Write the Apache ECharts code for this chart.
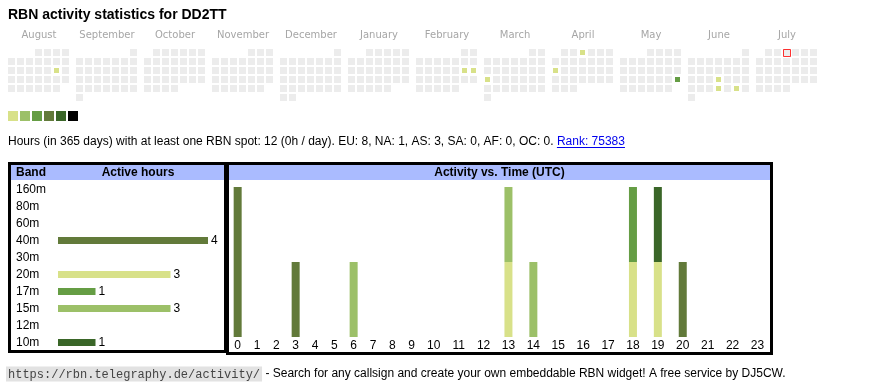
<!DOCTYPE html>
<html><head><meta charset="utf-8">
<script src="https://cdn.jsdelivr.net/npm/echarts@6/dist/echarts.min.js"></script>
<style>html,body{margin:0;padding:0;background:#fff}#c{width:870px;height:390px}</style>
</head><body><div id="c"></div>
<script>
// ---------- data ----------
const callsign = 'DD2TT';
const months = ['2024-08','2024-09','2024-10','2024-11','2024-12','2025-01','2025-02','2025-03','2025-04','2025-05','2025-06','2025-07'];
const monthNames = ['August','September','October','November','December','January','February','March','April','May','June','July'];
const activeDays = ['2024-08-17','2025-02-15','2025-02-16','2025-03-17','2025-04-03','2025-04-14','2025-05-25','2025-06-19','2025-06-26','2025-06-28'];
const activeDayHours = [1,1,1,1,1,1,3,1,1,1];
const today = '2025-07-03';
const levelColors = ['#d8e189','#9cc068','#659d44','#627a3a','#3a6628','#000000'];

const bands = ['160m','80m','60m','40m','30m','20m','17m','15m','12m','10m'];
const bandHours = [0,0,0,4,0,3,1,3,0,1];
const bandColors = ['#d8e189','#9cc068','#659d44','#627a3a','#3a6628','#d8e189','#659d44','#9cc068','#627a3a','#3a6628'];

const hourLabels = ['0','1','2','3','4','5','6','7','8','9','10','11','12','13','14','15','16','17','18','19','20','21','22','23'];
const hours40m = [2,0,0,1,0,0,0,0,0,0,0,0,0,0,0,0,0,0,0,0,1,0,0,0];
const hours20m = [0,0,0,0,0,0,0,0,0,0,0,0,0,1,0,0,0,0,1,1,0,0,0,0];
const hours17m = [0,0,0,0,0,0,0,0,0,0,0,0,0,0,0,0,0,0,1,0,0,0,0,0];
const hours15m = [0,0,0,0,0,0,1,0,0,0,0,0,0,1,1,0,0,0,0,0,0,0,0,0];
const hours10m = [0,0,0,0,0,0,0,0,0,0,0,0,0,0,0,0,0,0,0,1,0,0,0,0];

const continents = ['EU','NA','AS','SA','AF','OC'];
const continentHours = [8,1,3,0,0,0];
const rank = 75383;

// ---------- layout helpers ----------
const SANS = '"Liberation Sans", Arial, sans-serif';
const activitySeries = [
  {band:'40m', data:hours40m}, {band:'20m', data:hours20m}, {band:'17m', data:hours17m},
  {band:'15m', data:hours15m}, {band:'10m', data:hours10m}
];
// hour columns sized like auto table columns (by label width)
const colW = l => 13.76 + 5.57 * l.length;
let acc = 0;
const hourX = hourLabels.map(l => { const w = colW(l); const c = acc + w / 2; acc += w; return c; });
const totalX = acc;

const totalHours = activeDayHours.reduce((a, b) => a + b, 0);
const mainText = 'Hours (in 365 days) with at least one RBN spot: ' + totalHours + ' (' + Math.round(totalHours / 365) + 'h / day). ' +
  continents.map((c, i) => c + ': ' + continentHours[i]).join(', ') + '. ';
const linkText = 'Rank: ' + rank;

const mc = document.createElement('canvas').getContext('2d');
mc.font = '12px ' + SANS;
const preW = mc.measureText(mainText).width;
const linkW = mc.measureText(linkText).width;

const calLeft = i => 7 + 68 * i;

const calendars = months.map((m, i) => ({
  range: m, orient: 'vertical', left: calLeft(i), top: 48, cellSize: [9, 9],
  splitLine: {show: false},
  itemStyle: {color: '#ececec', borderColor: '#fff', borderWidth: 2},
  dayLabel: {show: false, firstDay: 1}, monthLabel: {show: false}, yearLabel: {show: false}
}));

const heatSeries = months.map((m, i) => ({
  type: 'heatmap', coordinateSystem: 'calendar', calendarIndex: i, silent: true,
  itemStyle: {borderColor: '#fff', borderWidth: 2},
  data: activeDays.map((d, k) => [d, activeDayHours[k]]).filter(p => p[0].startsWith(m))
}));

const graphics = [
  {type: 'text', x: 8, y: 15.5, style: {text: 'RBN activity statistics for ' + callsign, font: 'bold 14px ' + SANS, fill: '#000', verticalAlign: 'middle'}},
  ...monthNames.map((n, i) => ({type: 'text', x: calLeft(i) + 32, y: 35, style: {text: n, font: '10px "DejaVu Sans"', fill: '#a6a6a6', align: 'center', verticalAlign: 'middle'}})),
  {type: 'text', x: 8, y: 142, style: {text: '{t|' + mainText + '}{l|' + linkText + '}', verticalAlign: 'middle',
    rich: {t: {font: '12px ' + SANS, fill: '#000'}, l: {font: '12px ' + SANS, fill: '#0000ee'}}}},
  {type: 'line', shape: {x1: 8 + preW, y1: 147.5, x2: 8 + preW + linkW, y2: 147.5}, style: {stroke: '#0000ee', lineWidth: 1}},
  // table headers
  {type: 'rect', shape: {x: 11, y: 165, width: 214, height: 15}, style: {fill: '#aabbff'}},
  {type: 'rect', shape: {x: 229, y: 165, width: 542, height: 15}, style: {fill: '#aabbff'}},
  {type: 'text', x: 16, y: 173, style: {text: 'Band', font: 'bold 12px ' + SANS, fill: '#000', verticalAlign: 'middle'}},
  {type: 'text', x: 138, y: 173, style: {text: 'Active hours', font: 'bold 12px ' + SANS, fill: '#000', align: 'center', verticalAlign: 'middle'}},
  {type: 'text', x: 499.5, y: 173, style: {text: 'Activity vs. Time (UTC)', font: 'bold 12px ' + SANS, fill: '#000', align: 'center', verticalAlign: 'middle'}},
  {type: 'rect', shape: {x: 9.5, y: 163.5, width: 216, height: 188}, style: {fill: 'none', stroke: '#000', lineWidth: 3}},
  {type: 'rect', shape: {x: 227.5, y: 163.5, width: 544, height: 190}, style: {fill: 'none', stroke: '#000', lineWidth: 3}},
  // footer
  {type: 'text', x: 6, y: 374, style: {text: '{u|https://rbn.telegraphy.de/activity/}{t| - Search for any callsign and create your own embeddable RBN widget! A free service by DJ5CW.}', verticalAlign: 'middle',
    rich: {u: {fontFamily: '"Liberation Mono", monospace', fontSize: 12, fill: '#444', backgroundColor: '#e2e2e2', padding: [2, 2, 1, 2]},
           t: {fontFamily: SANS, fontSize: 12, fill: '#000'}}}}
];

const chart = echarts.init(document.getElementById('c'), null, {renderer: 'canvas'});
const heatIdx = heatSeries.map((s, i) => 1 + activitySeries.length + i);

chart.setOption({
  animation: false,
  calendar: calendars,
  grid: [
    {left: 58, top: 181, width: 150, height: 170},
    {left: 228, top: 187, width: totalX, height: 150}
  ],
  xAxis: [
    {gridIndex: 0, type: 'value', min: 0, max: 4, show: false},
    {gridIndex: 1, type: 'value', min: 0, max: totalX, axisLine: {show: false}, axisTick: {show: false}, splitLine: {show: false},
      axisLabel: {customValues: hourX, margin: 3, fontSize: 12, fontFamily: SANS, color: '#000',
        formatter: v => { const i = hourX.findIndex(x => Math.abs(x - v) < 0.01); return i >= 0 ? hourLabels[i] : ''; }}}
  ],
  yAxis: [
    {gridIndex: 0, type: 'category', data: bands, inverse: true, axisLine: {show: false}, axisTick: {show: false}, splitLine: {show: false},
      axisLabel: {align: 'left', margin: 42, fontSize: 12, fontFamily: SANS, color: '#000'}},
    {gridIndex: 1, type: 'value', min: 0, max: 2, show: false}
  ],
  visualMap: {
    type: 'piecewise', seriesIndex: heatIdx, orient: 'horizontal', left: 8, top: 111,
    itemWidth: 10, itemHeight: 10, itemGap: 2, itemSymbol: 'rect', showLabel: false, selectedMode: false, padding: 0,
    pieces: levelColors.map((c, i) => i < levelColors.length - 1 ? {value: i + 1, color: c} : {min: i + 1, color: c})
  },
  series: [
    {type: 'bar', xAxisIndex: 0, yAxisIndex: 0, barWidth: 7, silent: true,
      data: bandHours.map((v, i) => ({value: v, itemStyle: {color: bandColors[i]}})),
      label: {show: true, position: 'right', distance: 3, fontSize: 12, fontFamily: SANS, color: '#000', formatter: p => p.value > 0 ? p.value : ''}},
    ...activitySeries.map(s => ({
      type: 'bar', xAxisIndex: 1, yAxisIndex: 1, stack: 'hours', barWidth: 8, silent: true,
      itemStyle: {color: bandColors[bands.indexOf(s.band)]},
      // value column first so the stack is applied to the hour counts
      encode: {x: 1, y: 0},
      data: s.data.map((v, i) => [v, hourX[i]])
    })),
    ...heatSeries,
    {type: 'scatter', coordinateSystem: 'calendar', calendarIndex: months.indexOf(today.slice(0, 7)), silent: true,
      symbol: 'rect', symbolSize: 7, symbolOffset: [0.5, 0.5],
      itemStyle: {color: '#eeeeee', borderColor: '#ff0000', borderWidth: 1},
      data: [[today, 0]]}
  ],
  graphic: graphics
});
</script></body></html>
